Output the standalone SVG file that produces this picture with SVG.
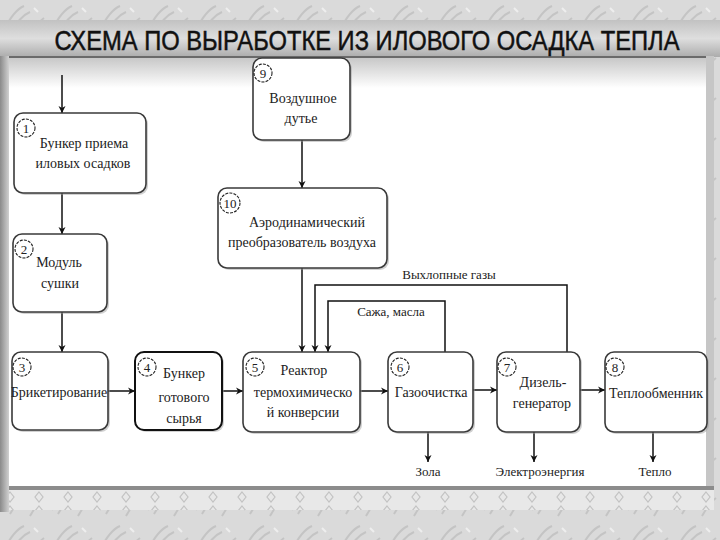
<svg xmlns="http://www.w3.org/2000/svg" width="720" height="540" viewBox="0 0 720 540">
<defs>
<style>
.box{fill:#fff;stroke:#3a3a3a;stroke-width:1.6}
.shadow{fill:#9a9a9a;opacity:0.45}
.t{font-family:"Times New Roman","Liberation Serif","DejaVu Serif",serif;font-size:14px;fill:#222;text-anchor:middle}
.lbl{font-family:"Times New Roman","Liberation Serif","DejaVu Serif",serif;font-size:13px;fill:#222;text-anchor:middle}
.num{font-family:"Times New Roman","Liberation Serif","DejaVu Serif",serif;font-size:13px;fill:#222;text-anchor:middle}
.nc{fill:none;stroke:#222;stroke-width:1.1;stroke-dasharray:3 1.2}
.ca{fill:none;stroke:#111;stroke-width:1.5;marker-end:url(#ah)}
</style>
<marker id="ah" viewBox="0 0 10 10" refX="10" refY="5" markerWidth="7" markerHeight="9" markerUnits="userSpaceOnUse" orient="auto">
<path d="M0,0 L10,5 L0,10 L3,5 Z" fill="#111"/>
</marker>
<pattern id="tex" width="48" height="40" patternUnits="userSpaceOnUse">
<rect width="48" height="40" fill="#dadada"/>
<path d="M4,30 Q14,10 24,6 M10,34 Q20,16 30,12 M30,36 Q38,22 44,18" stroke="#c4c4c4" stroke-width="2" fill="none"/>
<path d="M18,26 l6,-3 M34,8 l4,4" stroke="#eeeeee" stroke-width="2" fill="none"/>
</pattern>
<pattern id="dia" width="29" height="14" patternUnits="userSpaceOnUse">
<rect width="29" height="14" fill="#e8e8e8"/>
<path d="M10,2 L14,7 L10,12 L6,7 Z" fill="none" stroke="#c2c2c2" stroke-width="1.2"/>
</pattern>
<linearGradient id="band" x1="0" y1="0" x2="0" y2="1">
<stop offset="0" stop-color="#c2c2c2"/>
<stop offset="0.5" stop-color="#dedede"/>
<stop offset="1" stop-color="#acacac"/>
</linearGradient>
<linearGradient id="lbar" x1="0" y1="0" x2="1" y2="0">
<stop offset="0" stop-color="#8a8a8a"/>
<stop offset="1" stop-color="#d0d0d0"/>
</linearGradient>
<linearGradient id="topsh" x1="0" y1="0" x2="0" y2="1">
<stop offset="0" stop-color="#c8c8c8"/>
<stop offset="1" stop-color="#ffffff"/>
</linearGradient>
</defs>

<g id="background">
<rect x="0" y="0" width="720" height="540" fill="url(#tex)"/>
<rect x="0" y="20" width="720" height="37" fill="url(#band)"/>
<rect x="0" y="56" width="712" height="2" fill="#6a6a6a"/>
<rect x="8" y="58" width="700" height="430" fill="#ffffff"/>
<rect x="8" y="58" width="700" height="30" fill="url(#topsh)"/>
<rect x="0" y="56" width="9" height="456" fill="url(#lbar)"/>
<rect x="706" y="56" width="8" height="434" fill="#c6c6c6"/>
<rect x="9" y="486" width="705" height="4" fill="#8c8c8c"/>
<rect x="9" y="490" width="705" height="20" fill="url(#dia)"/>
<text x="367" y="50" font-family="Liberation Sans, DejaVu Sans, sans-serif" font-size="28" fill="#111" stroke="#111" stroke-width="0.5" textLength="625" lengthAdjust="spacingAndGlyphs" text-anchor="middle">СХЕМА ПО ВЫРАБОТКЕ ИЗ ИЛОВОГО ОСАДКА ТЕПЛА</text>
</g>

<g id="connectors">
<line class="ca" x1="62" y1="75" x2="62" y2="113"/>
<line class="ca" x1="62" y1="193" x2="62" y2="234"/>
<line class="ca" x1="62" y1="312" x2="62" y2="352"/>
<line class="ca" x1="108" y1="391" x2="135" y2="391"/>
<line class="ca" x1="222" y1="391" x2="243" y2="391"/>
<line class="ca" x1="360" y1="391" x2="388" y2="391"/>
<line class="ca" x1="473" y1="390" x2="497" y2="390"/>
<line class="ca" x1="580" y1="390" x2="605" y2="390"/>
<line class="ca" x1="302" y1="140" x2="302" y2="188"/>
<line class="ca" x1="302" y1="268" x2="302" y2="352"/>
<polyline class="ca" points="567,352 567,285 315,285 315,352"/>
<polyline class="ca" points="445,352 445,301 328,301 328,352"/>
<line class="ca" x1="428" y1="432" x2="428" y2="462"/>
<line class="ca" x1="534" y1="432" x2="534" y2="462"/>
<line class="ca" x1="653" y1="432" x2="653" y2="462"/>
<text class="lbl" x="449" y="279">Выхлопные газы</text>
<text class="lbl" x="391" y="316">Сажа, масла</text>
<text class="lbl" x="428" y="476">Зола</text>
<text class="lbl" x="540" y="476">Электроэнергия</text>
<text class="lbl" x="655" y="476">Тепло</text>
</g>

<g id="node1">
<rect class="shadow" x="16" y="115" width="132" height="80" rx="9"/>
<rect class="box" x="14" y="113" width="132" height="80" rx="9"/>
<circle class="nc" cx="26" cy="128" r="9"/>
<text class="num" x="26" y="133">1</text>
<text class="t" x="84" y="148">Бункер приема</text>
<text class="t" x="83" y="168">иловых осадков</text>
</g>

<g id="node2">
<rect class="shadow" x="15" y="236" width="94" height="78" rx="9"/>
<rect class="box" x="13" y="234" width="94" height="78" rx="9"/>
<circle class="nc" cx="24" cy="249" r="9"/>
<text class="num" x="24" y="254">2</text>
<text class="t" x="59" y="267">Модуль</text>
<text class="t" x="60" y="288">сушки</text>
</g>

<g id="node3">
<rect class="shadow" x="14" y="354" width="96" height="78" rx="9"/>
<rect class="box" x="12" y="352" width="96" height="78" rx="9"/>
<circle class="nc" cx="22" cy="367" r="9"/>
<text class="num" x="22" y="372">3</text>
<text class="t" x="59" y="397">Брикетирование</text>
</g>

<g id="node4">
<rect class="shadow" x="137" y="354" width="87" height="78" rx="9"/>
<rect class="box" x="135" y="352" width="87" height="78" rx="9" style="stroke:#111;stroke-width:2"/>
<circle class="nc" cx="147" cy="367" r="9"/>
<text class="num" x="147" y="372">4</text>
<text class="t" x="184" y="378">Бункер</text>
<text class="t" x="184" y="402">готового</text>
<text class="t" x="184" y="423">сырья</text>
</g>

<g id="node5">
<rect class="shadow" x="245" y="354" width="117" height="80" rx="9"/>
<rect class="box" x="243" y="352" width="117" height="80" rx="9"/>
<circle class="nc" cx="255" cy="367" r="9"/>
<text class="num" x="255" y="372">5</text>
<text class="t" x="304" y="375">Реактор</text>
<text class="t" x="303" y="397">термохимическо</text>
<text class="t" x="303" y="417">й конверсии</text>
</g>

<g id="node6">
<rect class="shadow" x="390" y="354" width="85" height="80" rx="9"/>
<rect class="box" x="388" y="352" width="85" height="80" rx="9"/>
<circle class="nc" cx="400" cy="367" r="9"/>
<text class="num" x="400" y="372">6</text>
<text class="t" x="431" y="397">Газоочистка</text>
</g>

<g id="node7">
<rect class="shadow" x="499" y="354" width="83" height="80" rx="9"/>
<rect class="box" x="497" y="352" width="83" height="80" rx="9"/>
<circle class="nc" cx="507" cy="367" r="9"/>
<text class="num" x="507" y="372">7</text>
<text class="t" x="543" y="387">Дизель-</text>
<text class="t" x="542" y="408">генератор</text>
</g>

<g id="node8">
<rect class="shadow" x="607" y="354" width="102" height="80" rx="9"/>
<rect class="box" x="605" y="352" width="102" height="80" rx="9"/>
<circle class="nc" cx="615" cy="367" r="9"/>
<text class="num" x="615" y="372">8</text>
<text class="t" x="656" y="398">Теплообменник</text>
</g>

<g id="node9">
<rect class="shadow" x="255" y="60" width="97" height="82" rx="9"/>
<rect class="box" x="253" y="58" width="97" height="82" rx="9"/>
<circle class="nc" cx="263" cy="73" r="9"/>
<text class="num" x="263" y="78">9</text>
<text class="t" x="303" y="103">Воздушное</text>
<text class="t" x="301" y="123">дутье</text>
</g>

<g id="node10">
<rect class="shadow" x="220" y="190" width="169" height="80" rx="9"/>
<rect class="box" x="218" y="188" width="169" height="80" rx="9"/>
<circle class="nc" cx="230" cy="203" r="10"/>
<text class="num" x="230" y="208">10</text>
<text class="t" x="307" y="227">Аэродинамический</text>
<text class="t" x="302" y="247">преобразователь воздуха</text>
</g>
</svg>
